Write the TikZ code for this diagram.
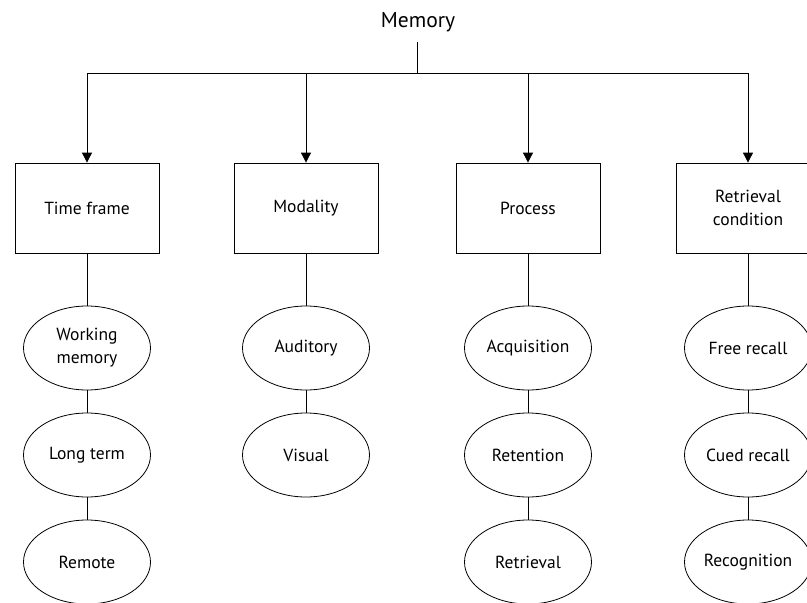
\documentclass[tikz,border=0pt]{standalone}
\usepackage{fontspec}
\setmainfont{PT Sans}
\usetikzlibrary{arrows.meta,shapes.geometric}

\begin{document}
\begin{tikzpicture}[x=1pt,y=-1pt,line width=0.8pt,
  cat/.style={draw,rectangle,minimum width=144pt,minimum height=90pt,
    align=center,font=\fontsize{17.5}{23}\selectfont},
  item/.style={draw,ellipse,minimum width=127pt,minimum height=84pt,
    inner sep=0pt,align=center,font=\fontsize{17.5}{23}\selectfont},
  down/.style={-{Triangle[length=10pt,width=10pt]}}]
\useasboundingbox (0,0) rectangle (807,603);
\clip (0,0) rectangle (807,603);

%% Root and the fork under it
\node[font=\fontsize{21.5}{25}\selectfont] (memory) at (418,22) {Memory};
\coordinate (stem) at (417,42);
\coordinate (fork) at (417,73);
\draw (stem) -- (fork);

% Time frame
\node[cat] (time) at (87,208) {Time frame};
\node[item] (working) at (87,348) {Working\\memory};
\node[item] (longterm) at (87,455) {Long term};
\node[item] (remote) at (87,562) {Remote};
\draw[down] (time |- fork) -- (time);
\draw (time) -- (working);
\draw (working) -- (longterm);
\draw (longterm) -- (remote);

% Modality
\node[cat] (modality) at (306,208) {Modality};
\node[item] (auditory) at (306,348) {Auditory};
\node[item] (visual) at (306,455) {Visual};
\draw[down] (modality |- fork) -- (modality);
\draw (modality) -- (auditory);
\draw (auditory) -- (visual);

% Process
\node[cat] (process) at (528,208) {Process};
\node[item] (acquisition) at (528,348) {Acquisition};
\node[item] (retention) at (528,455) {Retention};
\node[item] (retrieval) at (528,562) {Retrieval};
\draw[down] (process |- fork) -- (process);
\draw (process) -- (acquisition);
\draw (acquisition) -- (retention);
\draw (retention) -- (retrieval);

% Retrieval condition
\node[cat] (condition) at (748,208) {Retrieval\\condition};
\node[item] (free) at (748,348) {Free recall};
\node[item] (cued) at (748,455) {Cued recall};
\node[item] (recognition) at (748,562) {Recognition};
\draw[down] (condition |- fork) -- (condition);
\draw (condition) -- (free);
\draw (free) -- (cued);
\draw (cued) -- (recognition);

%% Horizontal bar
\draw (time |- fork) -- (condition |- fork);

\end{tikzpicture}
\end{document}
